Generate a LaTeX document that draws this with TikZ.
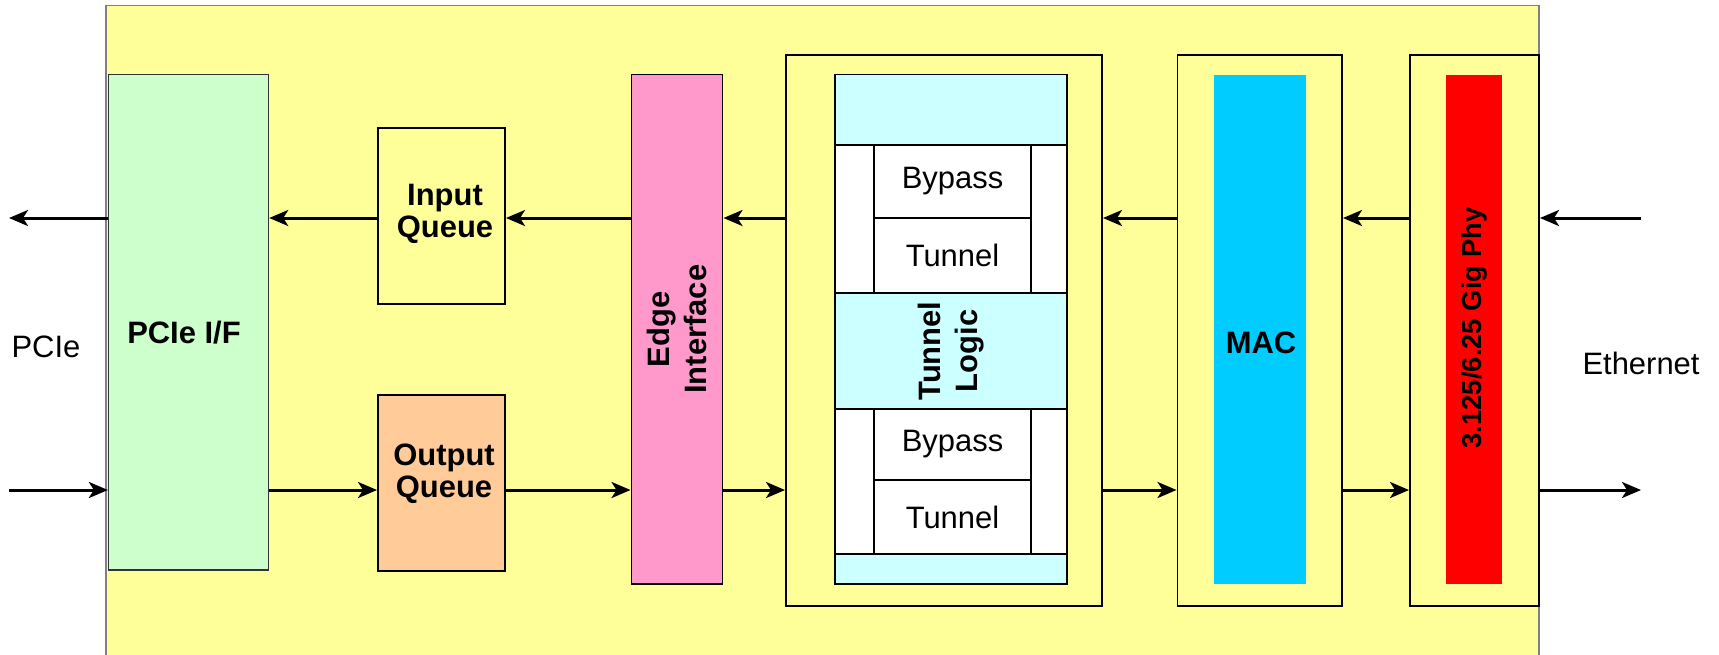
\documentclass[tikz,border=0pt]{standalone}
\usepackage{fontspec}
\setmainfont{Liberation Sans}
\usetikzlibrary{arrows.meta,fit}
\definecolor{chipyel}{RGB}{255,255,153}
\definecolor{pcigreen}{RGB}{204,255,204}
\definecolor{outorange}{RGB}{255,204,153}
\definecolor{edgepink}{RGB}{255,153,204}
\definecolor{tuncyan}{RGB}{204,255,255}
\definecolor{macblue}{RGB}{0,204,255}
\definecolor{phyred}{RGB}{255,0,0}
\tikzset{
  blk/.style={draw=black,line width=0.55pt,inner sep=0pt},
  bare/.style={draw=none,inner sep=0pt},
  thin/.style={draw=black,line width=0.55pt,inner sep=0pt,fill=white},
  bt/.style={align=center,inner sep=0pt,font=\fontsize{8.8}{9}\selectfont\bfseries},
  rt/.style={inner sep=0pt,font=\fontsize{8.8}{9}\selectfont},
  vtxt/.style={rotate=90,align=center,inner sep=0pt,font=\fontsize{8.8}{10.3}\selectfont\bfseries},
  io/.style={font=\fontsize{8.8}{9}\selectfont},
  fl/.style={-{Stealth[length=0.19cm,width=0.16cm,inset=0.05cm]},line width=0.85pt},
}
\begin{document}
\begin{tikzpicture}[x=0.01cm,y=-0.01cm]
\useasboundingbox (0,0) rectangle (1719,654);
\node[fit={(106,5.5) (1539,662)},draw=gray,line width=0.5pt,fill=chipyel,inner sep=0pt](chip){};
% host side
\node[blk,draw=black!80,line width=0.35pt,fill=pcigreen,fit={(108.5,74.5) (268.6,570)}](pcie){};
\node[bt] at (184,333){PCIe I/F};
\node[blk,fill=chipyel,fit={(378,128) (505,304)}](inq){};
\node[bt] at (445,214){Input\\Queue};
\node[blk,fill=outorange,fit={(378,395) (505,571)}](outq){};
\node[bt] at (444,474){Output\\Queue};
\node[blk,fill=edgepink,fit={(631.5,74.5) (722.5,584)}](edge){};
\node[vtxt] at (edge.center){Edge\\Interface};
% tunnel block
\node[blk,fill=chipyel,fit={(786,55) (1102,606)}](tunout){};
\node[blk,fill=tuncyan,fit={(835,74.5) (1067,584)}](tunin){};
\node[thin,fit={(835,145) (1067,293)}](bandA){};
\node[thin,fit={(874,145) (1031,218)}](bypA){};
\node[rt] at (bypA){Bypass};
\node[thin,fit={(874,218) (1031,293)}](tunA){};
\node[rt] at (tunA){Tunnel};
\node[thin,fit={(835,409) (1067,554)}](bandB){};
\node[thin,fit={(874,409) (1031,480)}](bypB){};
\node[rt] at (bypB){Bypass};
\node[thin,fit={(874,480) (1031,554)}](tunB){};
\node[rt] at (tunB){Tunnel};
\node[vtxt] at (951,351){Tunnel\\Logic};
% line side
\node[blk,fill=chipyel,fit={(1177.5,55) (1342,606)}](macout){};
\node[bare,fill=macblue,fit={(1214,74.5) (1306,584)}](mac){};
\node[bt] at (1261,343){MAC};
\node[blk,fill=chipyel,fit={(1410,55) (1539,606)}](phyout){};
\node[bare,fill=phyred,fit={(1446,74.5) (1502,584)}](phy){};
\node[vtxt,font=\fontsize{7.8}{9}\selectfont\bfseries] at (1474,328){3.125/6.25 Gig Phy};
\node[io](pcietag) at (46,347){PCIe};
\node[io](ethtag) at (1641,363){Ethernet};
\coordinate (up) at (0,218);\coordinate (dn) at (0,490);
\coordinate (lend) at (9,0);\coordinate (rend) at (1641,0);
% receive path
\draw[fl](rend|-up)--(phyout.east|-up);\draw[fl](phyout.west|-up)--(macout.east|-up);
\draw[fl](macout.west|-up)--(tunout.east|-up);\draw[fl](tunout.west|-up)--(edge.east|-up);
\draw[fl](edge.west|-up)--(inq.east|-up);\draw[fl](inq.west|-up)--(pcie.east|-up);
\draw[fl](pcie.west|-up)--(lend|-up);
% transmit path
\draw[fl](lend|-dn)--(pcie.west|-dn);\draw[fl](pcie.east|-dn)--(outq.west|-dn);
\draw[fl](outq.east|-dn)--(edge.west|-dn);\draw[fl](edge.east|-dn)--(tunout.west|-dn);
\draw[fl](tunout.east|-dn)--(macout.west|-dn);\draw[fl](macout.east|-dn)--(phyout.west|-dn);
\draw[fl](phyout.east|-dn)--(rend|-dn);
\end{tikzpicture}
\end{document}
